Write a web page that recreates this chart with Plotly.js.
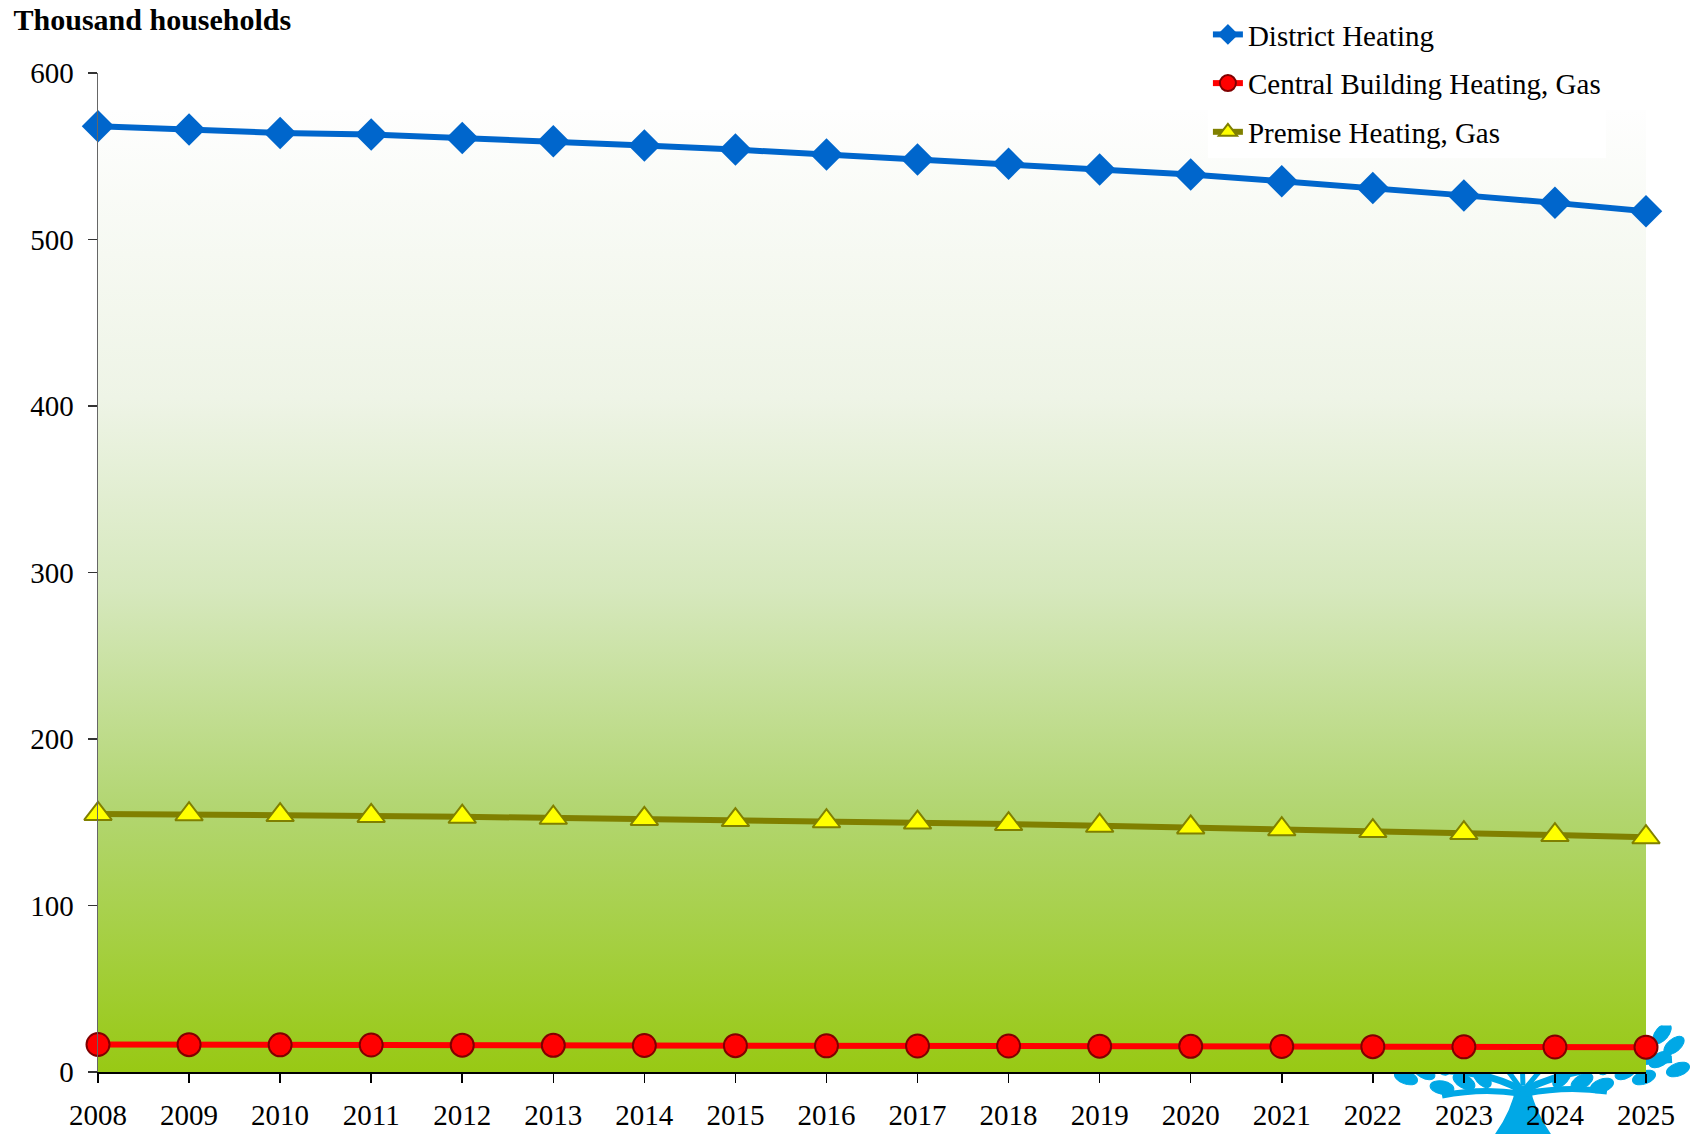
<!DOCTYPE html>
<html>
<head>
<meta charset="utf-8">
<script src="https://cdn.plot.ly/plotly-3.0.1.min.js"></script>
<style>html,body{margin:0;padding:0;background:#fff;}#chart{width:1695px;height:1134px;}</style>
</head>
<body>
<div id="chart"></div>
<script>
const years = [2008, 2009, 2010, 2011, 2012, 2013, 2014, 2015, 2016, 2017, 2018, 2019, 2020, 2021, 2022, 2023, 2024, 2025];
const districtHeating = [568, 566, 564, 563, 561, 559, 556.5, 554, 551, 548, 545.5, 542, 539, 535, 531, 526.5, 522, 517];
const centralBuildingGas = [16.5, 16.4, 16.3, 16.2, 16.1, 16.0, 15.9, 15.8, 15.7, 15.6, 15.6, 15.5, 15.4, 15.3, 15.2, 15.1, 15.0, 14.9];
const premiseGas = [155, 154.8, 154.3, 153.8, 153.3, 152.7, 152, 151.3, 150.6, 149.8, 148.9, 147.9, 146.9, 145.8, 144.7, 143.5, 142.3, 141];
const seriesNames = ['District Heating', 'Central Building Heating, Gas', 'Premise Heating, Gas'];
const yTicks = [0, 100, 200, 300, 400, 500, 600];
const yTitle = 'Thousand households';

const FONT = '"Liberation Serif", "Times New Roman", serif';

const gradSvg = "<svg xmlns='http://www.w3.org/2000/svg' width='100' height='100' preserveAspectRatio='none' viewBox='0 0 100 100'>" +
  "<defs><linearGradient id='g' x1='0' y1='0' x2='0' y2='1'>" +
  "<stop offset='0' stop-color='#fefefe'/>" +
  "<stop offset='0.3' stop-color='#eef4e6'/>" +
  "<stop offset='0.5' stop-color='#d6e8bd'/>" +
  "<stop offset='0.72' stop-color='#b3d673'/>" +
  "<stop offset='1' stop-color='#98c914'/>" +
  "</linearGradient></defs><rect x='0' y='0' width='100' height='100' fill='url(#g)'/></svg>";

// decorative logo (tree) leaves: [cx, cy, rotation]
let leaves = '';
const leafSpec = [
  [12,40,-60],[26,30,-40],[24,52,-70],[42,24,-30],[42,46,-60],[58,18,-20],[58,40,-45],[74,14,-15],[76,36,-40],
  [92,10,-10],[94,32,-30],[110,8,-5],[110,30,-20],[124,16,-10],[60,62,-80],[82,56,-60],[100,52,-40],
  [158,16,10],[172,8,5],[172,30,20],[188,10,10],[190,32,30],[206,14,20],[208,36,40],[224,18,30],[226,40,50],
  [242,22,40],[244,46,60],[260,28,50],[262,52,70],[278,34,60],[280,8,40],[292,20,50],[296,44,70],
  [200,56,60],[220,60,70],[180,52,40],[140,10,0]
];
leafSpec.forEach(function(l){
  leaves += "<ellipse cx='"+l[0]+"' cy='"+l[1]+"' rx='6.5' ry='12' transform='rotate("+l[2]+" "+l[0]+" "+l[1]+")'/>";
});
const treeSvg = "<svg xmlns='http://www.w3.org/2000/svg' width='310' height='110' viewBox='0 0 310 110'>" +
  "<g fill='#00a8e6' stroke='#00a8e6'>" +
  "<path d='M112 110 Q130 85 134 60 L148 60 Q152 85 170 110 Z' stroke='none'/>" +
  "<path d='M138 64 Q95 40 20 46' fill='none' stroke-width='7'/>" +
  "<path d='M144 64 Q190 40 290 34' fill='none' stroke-width='7'/>" +
  "<path d='M138 68 Q100 62 60 70' fill='none' stroke-width='6'/>" +
  "<path d='M144 68 Q185 60 225 66' fill='none' stroke-width='6'/>" +
  "<path d='M138 62 Q120 35 100 20' fill='none' stroke-width='5'/>" +
  "<path d='M144 62 Q165 35 190 18' fill='none' stroke-width='5'/>" +
  "<path d='M141 60 Q140 35 140 15' fill='none' stroke-width='5'/>" +
  leaves + "</g></svg>";

const traces = [
  {
    x: years, y: districtHeating, name: seriesNames[0], type: 'scatter', mode: 'lines+markers',
    line: {color: '#0066cc', width: 6},
    marker: {symbol: 'diamond', size: 25, color: '#0066cc', line: {color: '#0066cc', width: 0}},
    cliponaxis: false, legendgroup: 'a'
  },
  {
    x: years, y: centralBuildingGas, name: seriesNames[1], type: 'scatter', mode: 'lines+markers',
    line: {color: '#ff0000', width: 6},
    marker: {symbol: 'circle', size: 23, color: '#ff0000', line: {color: '#800000', width: 2}},
    cliponaxis: false, legendgroup: 'b'
  },
  {
    x: years, y: premiseGas, name: seriesNames[2], type: 'scatter', mode: 'lines+markers',
    line: {color: '#808000', width: 6},
    marker: {symbol: 'triangle-up', size: 24, color: '#ffff00', line: {color: '#808000', width: 2}},
    cliponaxis: false, legendgroup: 'c'
  }
];

const layout = {
  width: 1695, height: 1134,
  margin: {l: 98, r: 49, t: 73, b: 62, autoexpand: false},
  paper_bgcolor: '#ffffff',
  plot_bgcolor: 'rgba(0,0,0,0)',
  font: {family: FONT, size: 29, color: '#000000'},
  title: {
    text: '<b>' + yTitle + '</b>', xref: 'container', yref: 'container',
    x: 0.008, xanchor: 'left', y: 0.983, yanchor: 'middle',
    font: {family: FONT, size: 30, color: '#000000'}
  },
  xaxis: {
    type: 'linear', range: [years[0], years[years.length - 1]],
    tickmode: 'array', tickvals: years, ticktext: years.map(String),
    showgrid: false, zeroline: false,
    showline: true, linecolor: '#000000', linewidth: 1.5,
    ticks: 'outside', ticklen: 9, tickwidth: 1.5, tickcolor: '#000000',
    tickfont: {family: FONT, size: 29, color: '#000000'},
    ticklabelstandoff: 8
  },
  yaxis: {
    range: [0, 600], tickmode: 'array', tickvals: yTicks, ticktext: yTicks.map(String),
    showgrid: false, zeroline: false,
    showline: true, linecolor: '#666666', linewidth: 1.5,
    ticks: 'outside', ticklen: 9, tickwidth: 1.5, tickcolor: '#333333',
    tickfont: {family: FONT, size: 29, color: '#000000'},
    ticklabelstandoff: 8
  },
  legend: {
    x: 0.717, xanchor: 'left', y: 1.064, yanchor: 'top',
    bgcolor: 'rgba(255,255,255,1)', borderwidth: 0,
    font: {family: FONT, size: 29, color: '#000000'},
    traceorder: 'grouped', tracegroupgap: 8
  },
  showlegend: true,
  images: [
    {
      source: 'data:image/svg+xml;charset=utf-8,' + encodeURIComponent(treeSvg),
      xref: 'paper', yref: 'paper', x: (1382 - 98) / 1548, y: (1072.5 - 1026) / 999,
      sizex: 310 / 1548, sizey: 110 / 999, sizing: 'stretch', xanchor: 'left', yanchor: 'top', layer: 'below'
    },
    {
      source: 'data:image/svg+xml;charset=utf-8,' + encodeURIComponent(gradSvg),
      xref: 'paper', yref: 'paper', x: 0, y: (1072.5 - 110) / 999,
      sizex: 1, sizey: (1072.5 - 110) / 999, sizing: 'stretch', xanchor: 'left', yanchor: 'top', layer: 'below'
    }
  ]
};

Plotly.newPlot('chart', traces, layout, {displayModeBar: false, staticPlot: true});
</script>
</body>
</html>
